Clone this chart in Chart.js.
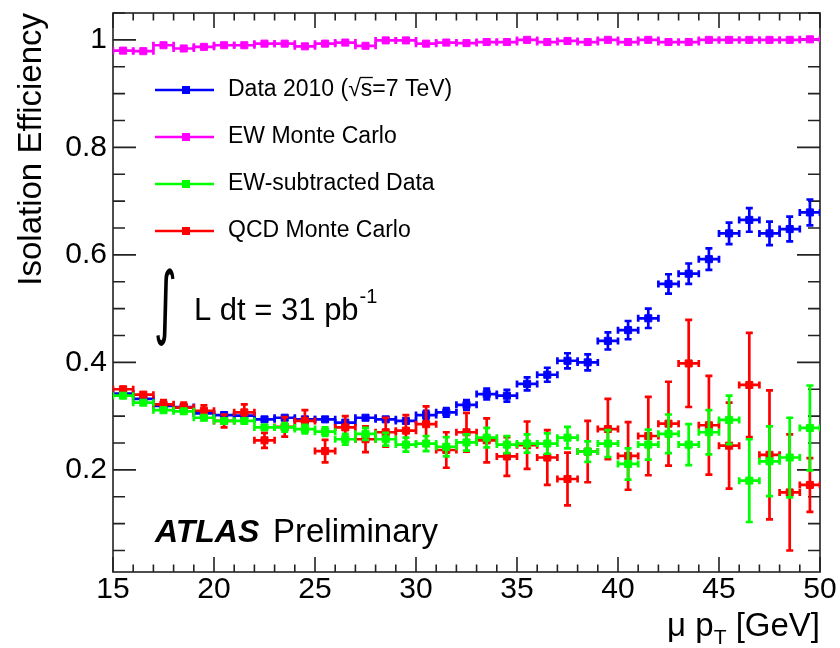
<!DOCTYPE html>
<html><head><meta charset="utf-8">
<script src="https://cdn.jsdelivr.net/npm/chart.js@4.4.1/dist/chart.umd.min.js"></script>
<style>html,body{margin:0;padding:0;background:#fff}#wrap{width:840px;height:648px}</style>
</head><body><div id="wrap"><canvas id="c" width="840" height="648"></canvas></div>
<script>
// ---------------- data ----------------
const ptBins = [15.5,16.5,17.5,18.5,19.5,20.5,21.5,22.5,23.5,24.5,25.5,26.5,27.5,28.5,29.5,30.5,31.5,32.5,33.5,34.5,35.5,36.5,37.5,38.5,39.5,40.5,41.5,42.5,43.5,44.5,45.5,46.5,47.5,48.5,49.5];
const binHalfWidth = 0.5;

const dataEff = [0.342,0.332,0.319,0.317,0.305,0.302,0.301,0.294,0.297,0.294,0.294,0.288,0.297,0.294,0.291,0.302,0.307,0.321,0.341,0.338,0.360,0.377,0.403,0.400,0.440,0.460,0.482,0.546,0.565,0.592,0.640,0.665,0.640,0.648,0.679];
const dataErr = [0.003,0.003,0.003,0.003,0.003,0.003,0.004,0.004,0.004,0.004,0.004,0.005,0.006,0.006,0.006,0.008,0.008,0.009,0.010,0.011,0.012,0.013,0.014,0.015,0.016,0.017,0.018,0.018,0.019,0.020,0.020,0.022,0.022,0.023,0.024];

const ewMcEff = [0.980,0.979,0.990,0.984,0.987,0.990,0.990,0.993,0.993,0.988,0.993,0.995,0.989,0.999,0.999,0.993,0.995,0.994,0.996,0.996,1.000,0.996,0.998,0.996,1.000,0.996,1.000,0.996,0.996,1.000,1.000,1.000,1.000,1.000,1.001];
const ewMcErr = [0.002,0.002,0.002,0.002,0.002,0.002,0.002,0.002,0.002,0.002,0.002,0.002,0.002,0.002,0.002,0.002,0.002,0.002,0.002,0.002,0.002,0.002,0.002,0.002,0.002,0.002,0.002,0.002,0.002,0.002,0.002,0.002,0.002,0.002,0.002];

const ewSubEff = [0.338,0.325,0.311,0.309,0.297,0.291,0.291,0.279,0.279,0.276,0.271,0.257,0.267,0.257,0.247,0.249,0.243,0.251,0.260,0.247,0.249,0.249,0.260,0.234,0.249,0.211,0.247,0.267,0.247,0.270,0.293,0.180,0.216,0.223,0.278];
const ewSubErr = [0.004,0.004,0.004,0.004,0.004,0.006,0.006,0.006,0.008,0.008,0.008,0.010,0.011,0.012,0.013,0.014,0.018,0.015,0.018,0.016,0.017,0.019,0.020,0.019,0.025,0.029,0.028,0.036,0.038,0.041,0.045,0.077,0.065,0.074,0.079];

const qcdMcEff = [0.350,0.340,0.322,0.316,0.310,0.291,0.307,0.255,0.280,0.291,0.235,0.279,0.257,0.270,0.273,0.285,0.237,0.270,0.255,0.225,0.246,0.223,0.183,0.234,0.276,0.226,0.263,0.286,0.398,0.283,0.245,0.358,0.228,0.158,0.172];
const qcdMcErr = [0.006,0.007,0.008,0.009,0.010,0.012,0.015,0.014,0.018,0.020,0.021,0.021,0.024,0.027,0.029,0.033,0.033,0.036,0.041,0.036,0.044,0.051,0.049,0.057,0.056,0.063,0.073,0.078,0.081,0.092,0.080,0.097,0.120,0.108,0.050];

const seriesLabels = ['Data 2010 (\u221As=7 TeV)', 'EW Monte Carlo', 'EW-subtracted Data', 'QCD Monte Carlo'];
const xTicks = [15,20,25,30,35,40,45,50];
const xTickLabels = ['15','20','25','30','35','40','45','50'];
const yTicks = [0.2,0.4,0.6,0.8,1.0];
const yTickLabels = ['0.2','0.4','0.6','0.8','1'];

// ---------------- styling ----------------
const FONT = '"Liberation Sans", Arial, Helvetica, sans-serif';
const BAR_W = 2.7;

function mkSet(label, vals, errs, color, order) {
  return {
    label: label,
    data: ptBins.map((x, i) => ({x: x, y: vals[i], err: errs[i]})),
    borderColor: color, backgroundColor: color,
    pointStyle: 'rect', pointRadius: 5, pointBorderWidth: 1,
    pointHoverRadius: 5, showLine: false, order: order
  };
}

const errorBarPlugin = {
  id: 'errorBars',
  beforeDatasetDraw(chart, args) {
    const ds = chart.data.datasets[args.index];
    const xs = chart.scales.x, ys = chart.scales.y, ctx = chart.ctx, a = chart.chartArea;
    ctx.save();
    ctx.beginPath(); ctx.rect(a.left, a.top, a.right - a.left, a.bottom - a.top); ctx.clip();
    ctx.strokeStyle = ds.borderColor; ctx.lineWidth = BAR_W; ctx.lineCap = 'butt';
    const cap = 3.5, ms = 4;
    ds.data.forEach(p => {
      const x0 = xs.getPixelForValue(p.x - binHalfWidth), x1 = xs.getPixelForValue(p.x + binHalfWidth);
      const xc = xs.getPixelForValue(p.x), yc = ys.getPixelForValue(p.y);
      const yT = ys.getPixelForValue(p.y + p.err), yB = ys.getPixelForValue(p.y - p.err);
      ctx.beginPath();
      ctx.moveTo(x0, yc); ctx.lineTo(x1, yc);
      ctx.moveTo(x0, yc - cap); ctx.lineTo(x0, yc + cap);
      ctx.moveTo(x1, yc - cap); ctx.lineTo(x1, yc + cap);
      if (yc - yT > ms) {
        ctx.moveTo(xc, yT); ctx.lineTo(xc, yB);
        ctx.moveTo(xc - cap, yT); ctx.lineTo(xc + cap, yT);
        ctx.moveTo(xc - cap, yB); ctx.lineTo(xc + cap, yB);
      }
      ctx.stroke();
    });
    ctx.restore();
  }
};

const framePlugin = {
  id: 'frame',
  beforeDatasetsDraw(chart) {
    const {ctx, chartArea: a, scales: {x, y}} = chart;
    ctx.save();
    ctx.strokeStyle = '#222'; ctx.lineWidth = 1.6;
    ctx.strokeRect(a.left, a.top, a.right - a.left, a.bottom - a.top);
    ctx.beginPath();
    for (let v = Math.ceil(x.min); v <= x.max + 1e-9; v += 1) {
      const px = x.getPixelForValue(v);
      const len = (v % 5 === 0) ? 15 : 7.5;
      ctx.moveTo(px, a.bottom); ctx.lineTo(px, a.bottom - len);
      ctx.moveTo(px, a.top); ctx.lineTo(px, a.top + len);
    }
    for (let k = Math.ceil(y.min / 0.05 - 1e-9); k * 0.05 <= y.max + 1e-9; k++) {
      const py = y.getPixelForValue(k * 0.05);
      const len = (k % 4 === 0) ? 23 : 12;
      ctx.moveTo(a.left, py); ctx.lineTo(a.left + len, py);
      ctx.moveTo(a.right, py); ctx.lineTo(a.right - len, py);
    }
    ctx.stroke();
    ctx.restore();
  }
};

const annotPlugin = {
  id: 'annot',
  afterDraw(chart) {
    const ctx = chart.ctx;
    ctx.save();
    // legend
    const rows = [90, 137, 184, 231];
    const lx0 = 155, lx1 = 214, lmk = 186, ltx = 228;
    chart.data.datasets.forEach((ds, i) => {
      const yy = rows[i];
      ctx.strokeStyle = ds.borderColor; ctx.lineWidth = BAR_W;
      ctx.beginPath(); ctx.moveTo(lx0, yy); ctx.lineTo(lx1, yy); ctx.stroke();
      ctx.fillStyle = ds.borderColor; ctx.fillRect(lmk - 4, yy - 4, 8, 8);
      ctx.fillStyle = '#000'; ctx.font = '23px ' + FONT;
      ctx.textBaseline = 'middle'; ctx.textAlign = 'left';
      ctx.fillText(ds.label, ltx, yy);
      const k = ds.label.indexOf('\u221A');
      if (k >= 0) {
        const x0 = ltx + ctx.measureText(ds.label.slice(0, k + 1)).width;
        const ws = ctx.measureText('s').width;
        ctx.strokeStyle = '#000'; ctx.lineWidth = 1.3;
        ctx.beginPath(); ctx.moveTo(x0 - 1, yy - 12.5); ctx.lineTo(x0 + ws + 0.5, yy - 12.5); ctx.stroke();
      }
    });
    // ATLAS Preliminary
    ctx.textBaseline = 'alphabetic'; ctx.textAlign = 'left'; ctx.fillStyle = '#000';
    ctx.font = 'italic bold 32px ' + FONT;
    ctx.fillText('ATLAS', 155, 542);
    ctx.font = '33px ' + FONT;
    ctx.fillText('Preliminary', 273, 542);
    // integral luminosity
    ctx.font = '40px "DejaVu Sans"';
    const m = ctx.measureText('\u222B');
    const gh = m.actualBoundingBoxAscent + m.actualBoundingBoxDescent;
    const gw = m.actualBoundingBoxLeft + m.actualBoundingBoxRight;
    ctx.save();
    ctx.translate(156, 267);
    ctx.scale(19 / gw, 80 / gh);
    ctx.fillText('\u222B', m.actualBoundingBoxLeft, m.actualBoundingBoxAscent);
    ctx.restore();
    ctx.font = '31px ' + FONT;
    const lt = 'L dt = 31 pb';
    ctx.fillText(lt, 194, 320);
    const lw = ctx.measureText(lt).width;
    ctx.font = '20px ' + FONT;
    ctx.fillText('-1', 194 + lw + 1, 303);
    // x-axis title
    ctx.font = '33px ' + FONT;
    const t1 = '\u03BC p', t3 = ' [GeV]';
    const w1 = ctx.measureText(t1).width, w3 = ctx.measureText(t3).width;
    ctx.font = '21px ' + FONT;
    const w2 = ctx.measureText('T').width;
    const right = chart.chartArea.right, by = 636;
    let xx = right - (w1 + w2 + w3);
    ctx.font = '33px ' + FONT; ctx.fillText(t1, xx, by); xx += w1;
    ctx.font = '21px ' + FONT; ctx.fillText('T', xx, by + 8); xx += w2;
    ctx.font = '33px ' + FONT; ctx.fillText(t3, xx, by);
    ctx.restore();
  }
};

new Chart(document.getElementById('c'), {
  type: 'scatter',
  data: { datasets: [
    mkSet(seriesLabels[0], dataEff, dataErr, '#0000ff', 4),
    mkSet(seriesLabels[1], ewMcEff, ewMcErr, '#ff00ff', 3),
    mkSet(seriesLabels[2], ewSubEff, ewSubErr, '#00ff00', 1),
    mkSet(seriesLabels[3], qcdMcEff, qcdMcErr, '#ff0000', 2)
  ]},
  options: {
    responsive: false, animation: false, devicePixelRatio: 1,
    events: [],
    layout: { padding: { left: 0, top: 13, right: 20, bottom: 0 } },
    plugins: { legend: { display: false }, tooltip: { enabled: false } },
    scales: {
      x: {
        type: 'linear', min: 15, max: 50,
        afterBuildTicks: s => { s.ticks = xTicks.map(v => ({ value: v })); },
        afterFit: s => { s.height = 76; s.paddingLeft = 0; s.paddingRight = 0; },
        grid: { display: false, drawTicks: false }, border: { display: false },
        ticks: { font: { family: FONT, size: 30 }, color: '#000', padding: 0, maxRotation: 0, autoSkip: false,
                 callback: (v, i) => xTickLabels[i] }
      },
      y: {
        type: 'linear', min: 0.01, max: 1.05,
        afterBuildTicks: s => { s.ticks = yTicks.map(v => ({ value: v })); },
        afterFit: s => { s.width = 113; s.paddingTop = 0; s.paddingBottom = 0; },
        grid: { display: false, drawTicks: false }, border: { display: false },
        ticks: { font: { family: FONT, size: 30 }, color: '#000', padding: 6, autoSkip: false,
                 callback: (v, i) => yTickLabels[i] },
        title: { display: true, text: 'Isolation Efficiency', align: 'end', color: '#000',
                 font: { family: FONT, size: 33 }, padding: { top: 12, bottom: 0 } }
      }
    }
  },
  plugins: [errorBarPlugin, framePlugin, annotPlugin]
});
</script>
</body></html>
